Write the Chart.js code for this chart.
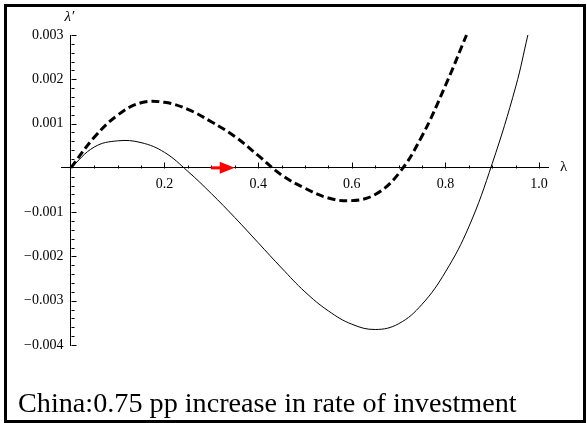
<!DOCTYPE html>
<html>
<head>
<meta charset="utf-8">
<script src="https://cdn.jsdelivr.net/npm/chart.js@4.4.1/dist/chart.umd.min.js"></script>
<style>
  html, body { margin: 0; padding: 0; background: #fff; }
  #wrap { position: relative; width: 587px; height: 423px; }
  #chart { position: absolute; left: 0; top: 0; }
  #frame { position: absolute; left: 4px; top: 4px; width: 582px; height: 419px; box-sizing: border-box; border: 3px solid #000; pointer-events: none; }
  #caption { position: absolute; left: 18px; top: 389px; line-height: 28px; font-family: 'Liberation Serif', serif; font-size: 28.2px; color: #000; white-space: nowrap; }
</style>
</head>
<body>
<div id="wrap">
  <canvas id="chart" width="587" height="423"></canvas>
  <div id="frame"></div>
  <div id="caption"></div>
</div>
<script>
// values
const lambdaSolid = [0, 0.05, 0.1, 0.15, 0.2, 0.25, 0.3, 0.35, 0.4, 0.45, 0.5, 0.55, 0.6, 0.65, 0.7, 0.75, 0.8, 0.85, 0.9, 0.95, 0.976];
const valuesSolid = [0, 0.00047, 0.00061, 0.00057, 0.00035, -0.00008, -0.00058, -0.00112, -0.00169, -0.00226, -0.0028, -0.00323, -0.00353, -0.00365, -0.00352, -0.00308, -0.00235, -0.00133, 0.0001, 0.00183, 0.003];

const lambdaDashed = [0, 0.05, 0.1, 0.15, 0.2, 0.25, 0.3, 0.35, 0.4, 0.45, 0.5, 0.55, 0.6, 0.65, 0.7, 0.75, 0.8, 0.845];
const valuesDashed = [0, 0.00069, 0.00119, 0.00147, 0.00148, 0.00132, 0.00104, 0.00071, 0.00028, -0.00016, -0.00046, -0.00068, -0.00074, -0.0006, -0.00013, 0.00072, 0.00186, 0.003];

const xTickValues = [0.2, 0.4, 0.6, 0.8, 1.0];
const yTickValues = [-0.004, -0.003, -0.002, -0.001, 0.001, 0.002, 0.003];
const arrowFrom = [0.299, 0];
const arrowTo = [0.35, 0];
const yAxisTitle = 'λ′';
const xAxisTitle = 'λ';
const caption = 'China:0.75 pp increase in rate of investment';

document.getElementById('caption').textContent = caption;

const toPoints = (xs, ys) => xs.map((x, i) => ({ x: x, y: ys[i] }));
const yLabel = (v) => (v < 0 ? '−' : '') + Math.abs(v).toFixed(3);

const tickFont = { family: 'Liberation Serif', size: 14 };

// Mathematica style ticks, y labels, arrow and axis names
const axisExtras = {
    id: 'axisExtras',
    afterDatasetsDraw(chart) {
        const { ctx, scales: { x, y } } = chart;
        const x0 = Math.round(x.getPixelForValue(0)) + 0.5;
        const y0 = Math.round(y.getPixelForValue(0)) + 0.5;
        ctx.save();
        ctx.strokeStyle = '#000';
        ctx.lineWidth = 1;
        ctx.beginPath();
        for (let i = 1; i <= 20; i++) {
            const px = Math.round(x.getPixelForValue(i * 0.05)) + 0.5;
            const len = i % 4 === 0 ? 6 : 3;
            ctx.moveTo(px, y0);
            ctx.lineTo(px, y0 - len);
        }
        for (let i = -20; i <= 15; i++) {
            if (i === 0) continue;
            const py = Math.round(y.getPixelForValue(i * 0.0002)) + 0.5;
            const len = i % 5 === 0 ? 5 : 3;
            ctx.moveTo(x0, py);
            ctx.lineTo(x0 + len, py);
        }
        ctx.stroke();

        // y tick labels, left of the axis
        ctx.fillStyle = '#000';
        ctx.font = '14px "Liberation Serif"';
        ctx.textAlign = 'right';
        ctx.textBaseline = 'middle';
        yTickValues.forEach((v) => {
            ctx.fillText(yLabel(v), x0 - 8, y.getPixelForValue(v));
        });

        // red arrow
        const ax1 = x.getPixelForValue(arrowFrom[0]);
        const ax2 = x.getPixelForValue(arrowTo[0]);
        const ay = y.getPixelForValue(arrowTo[1]);
        ctx.strokeStyle = '#ff0000';
        ctx.fillStyle = '#ff0000';
        ctx.lineWidth = 3;
        ctx.beginPath();
        ctx.moveTo(ax1, ay);
        ctx.lineTo(ax2 - 12, ay);
        ctx.stroke();
        ctx.beginPath();
        ctx.moveTo(ax2, ay);
        ctx.lineTo(ax2 - 15, ay - 6);
        ctx.lineTo(ax2 - 15, ay + 6);
        ctx.closePath();
        ctx.fill();

        // axis names
        ctx.fillStyle = '#000';
        ctx.font = 'italic 15px "Liberation Serif"';
        ctx.textAlign = 'center';
        ctx.fillText(yAxisTitle, x0 - 2, y.top - 18);
        ctx.font = '15px "Liberation Serif"';
        ctx.textAlign = 'left';
        ctx.fillText(xAxisTitle, x.right + 12, y0 - 1);
        ctx.restore();
    }
};

new Chart(document.getElementById('chart'), {
    type: 'line',
    data: {
        datasets: [{
            data: toPoints(lambdaSolid, valuesSolid),
            borderColor: '#000',
            borderWidth: 1,
            pointRadius: 0,
            tension: 0.4,
            fill: false,
            clip: 4
        }, {
            data: toPoints(lambdaDashed, valuesDashed),
            borderColor: '#000',
            borderWidth: 3,
            borderDash: [8, 4],
            pointRadius: 0,
            tension: 0.4,
            fill: false,
            clip: 4
        }]
    },
    options: {
        responsive: false,
        animation: false,
        layout: { padding: { left: 61, right: 39, top: 35, bottom: 78 } },
        plugins: { legend: { display: false }, tooltip: { enabled: false } },
        scales: {
            x: {
                type: 'linear',
                min: -0.021,
                max: 1.019,
                position: { y: 0 },
                grid: { display: false },
                border: { color: '#000', width: 1 },
                afterBuildTicks: (scale) => { scale.ticks = xTickValues.map((v) => ({ value: v })); },
                ticks: {
                    autoSkip: false,
                    maxRotation: 0,
                    padding: 0,
                    color: '#000',
                    font: tickFont,
                    callback: (v) => v.toFixed(1)
                }
            },
            y: {
                type: 'linear',
                min: -0.004,
                max: 0.003,
                position: { x: 0 },
                grid: { display: false },
                border: { color: '#000', width: 1 },
                afterBuildTicks: (scale) => { scale.ticks = yTickValues.map((v) => ({ value: v })); },
                ticks: { display: false }
            }
        }
    },
    plugins: [axisExtras]
});
</script>
</body>
</html>
